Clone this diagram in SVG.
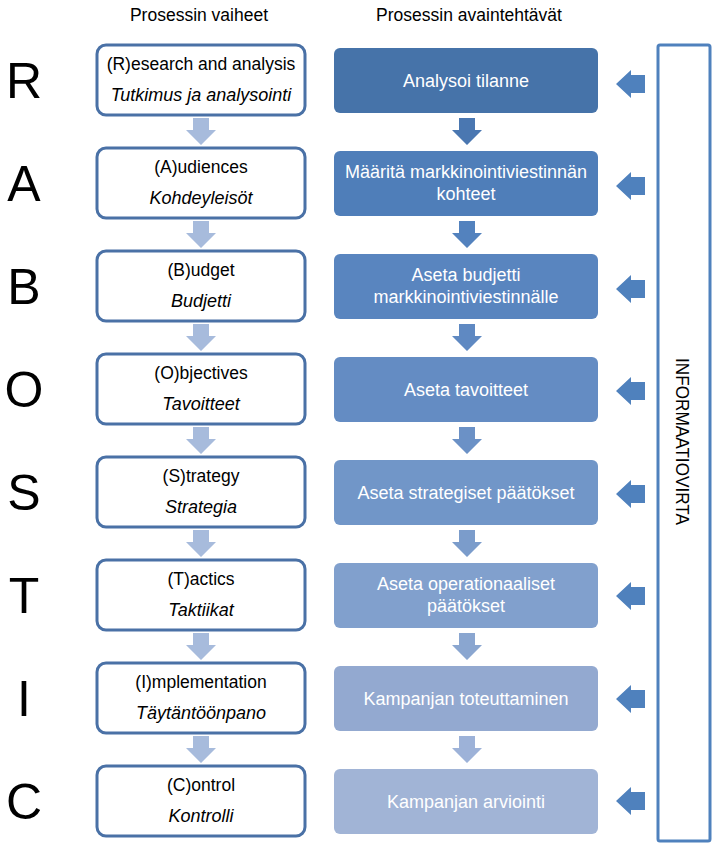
<svg xmlns="http://www.w3.org/2000/svg" width="715" height="846" viewBox="0 0 715 846">
<style>
.t{font-family:"Liberation Sans",Arial,sans-serif;}
.hdr{font-size:17.5px;fill:#000;text-anchor:middle;}
.big{font-size:50px;fill:#000;text-anchor:middle;}
.lb{fill:#fff;stroke:#4A71A6;stroke-width:3;}
.l1{font-size:17.5px;fill:#000;text-anchor:middle;}
.l2{font-size:18px;fill:#000;text-anchor:middle;font-style:italic;}
.rt{font-size:18px;fill:#fff;text-anchor:middle;}
.la{fill:#A7BBDC;}
.side{fill:#4F81BD;}
</style>
<defs>
<path id="da" d="M-8,0 H8 V12 H15 L0,27 L-15,12 H-8 Z"/>
<path id="sa" d="M0,0 L15,-14 V-9 H29 V9 H15 V14 Z"/>
</defs>
<rect width="715" height="846" fill="#fff"/>
<text class="t hdr" x="199" y="21">Prosessin vaiheet</text>
<text class="t hdr" x="469" y="21">Prosessin avaintehtävät</text>

<g id="letters">
<text class="t big" x="24" y="98">R</text>
<text class="t big" x="24" y="201">A</text>
<text class="t big" x="24" y="304">B</text>
<text class="t big" x="24" y="407">O</text>
<text class="t big" x="24" y="510">S</text>
<text class="t big" x="24" y="613">T</text>
<text class="t big" x="24" y="716">I</text>
<text class="t big" x="24" y="819">C</text>
</g>

<g id="connectors">
<use href="#da" x="201" y="118" class="la"/>
<use href="#da" x="201" y="221" class="la"/>
<use href="#da" x="201" y="324" class="la"/>
<use href="#da" x="201" y="427" class="la"/>
<use href="#da" x="201" y="530" class="la"/>
<use href="#da" x="201" y="633" class="la"/>
<use href="#da" x="201" y="736" class="la"/>
<use href="#da" x="467" y="118" fill="#4A77B1"/>
<use href="#da" x="467" y="221" fill="#5382BE"/>
<use href="#da" x="467" y="324" fill="#5F89C2"/>
<use href="#da" x="467" y="427" fill="#6B91C6"/>
<use href="#da" x="467" y="530" fill="#7B9CCB"/>
<use href="#da" x="467" y="633" fill="#8AA6D0"/>
<use href="#da" x="467" y="736" fill="#9DB2D8"/>
<use href="#sa" x="616" y="84" class="side"/>
<use href="#sa" x="616" y="186" class="side"/>
<use href="#sa" x="616" y="289" class="side"/>
<use href="#sa" x="616" y="391" class="side"/>
<use href="#sa" x="616" y="494" class="side"/>
<use href="#sa" x="616" y="596" class="side"/>
<use href="#sa" x="616" y="699" class="side"/>
<use href="#sa" x="616" y="801" class="side"/>
</g>

<g id="n-r"><rect class="lb" x="97" y="45" width="208" height="70" rx="9"/><text class="t l1" x="201" y="70">(R)esearch and analysis</text><text class="t l2" x="201" y="101">Tutkimus ja analysointi</text></g>
<g id="n-a"><rect class="lb" x="97" y="148" width="208" height="70" rx="9"/><text class="t l1" x="201" y="173">(A)udiences</text><text class="t l2" x="201" y="204">Kohdeyleisöt</text></g>
<g id="n-b"><rect class="lb" x="97" y="251" width="208" height="70" rx="9"/><text class="t l1" x="201" y="276">(B)udget</text><text class="t l2" x="201" y="307">Budjetti</text></g>
<g id="n-o"><rect class="lb" x="97" y="354" width="208" height="70" rx="9"/><text class="t l1" x="201" y="379">(O)bjectives</text><text class="t l2" x="201" y="410">Tavoitteet</text></g>
<g id="n-s"><rect class="lb" x="97" y="457" width="208" height="70" rx="9"/><text class="t l1" x="201" y="482">(S)trategy</text><text class="t l2" x="201" y="513">Strategia</text></g>
<g id="n-t"><rect class="lb" x="97" y="560" width="208" height="70" rx="9"/><text class="t l1" x="201" y="585">(T)actics</text><text class="t l2" x="201" y="616">Taktiikat</text></g>
<g id="n-i"><rect class="lb" x="97" y="663" width="208" height="70" rx="9"/><text class="t l1" x="201" y="688">(I)mplementation</text><text class="t l2" x="201" y="719">Täytäntöönpano</text></g>
<g id="n-c"><rect class="lb" x="97" y="766" width="208" height="70" rx="9"/><text class="t l1" x="201" y="791">(C)ontrol</text><text class="t l2" x="201" y="822">Kontrolli</text></g>

<g id="t1"><rect x="334" y="48" width="264" height="65" rx="6" fill="#4673A9"/><text class="t rt" x="466" y="87">Analysoi tilanne</text></g>
<g id="t2"><rect x="334" y="151" width="264" height="65" rx="6" fill="#4F7EB9"/><text class="t rt" x="466" y="178">Määritä markkinointiviestinnän</text><text class="t rt" x="466" y="200">kohteet</text></g>
<g id="t3"><rect x="334" y="254" width="264" height="65" rx="6" fill="#5985BF"/><text class="t rt" x="466" y="281">Aseta budjetti</text><text class="t rt" x="466" y="303">markkinointiviestinnälle</text></g>
<g id="t4"><rect x="334" y="357" width="264" height="65" rx="6" fill="#648CC3"/><text class="t rt" x="466" y="396">Aseta tavoitteet</text></g>
<g id="t5"><rect x="334" y="460" width="264" height="65" rx="6" fill="#7196C8"/><text class="t rt" x="466" y="499">Aseta strategiset päätökset</text></g>
<g id="t6"><rect x="334" y="563" width="264" height="65" rx="6" fill="#81A0CD"/><text class="t rt" x="466" y="590">Aseta operationaaliset</text><text class="t rt" x="466" y="612">päätökset</text></g>
<g id="t7"><rect x="334" y="666" width="264" height="65" rx="6" fill="#93A9D0"/><text class="t rt" x="466" y="705">Kampanjan toteuttaminen</text></g>
<g id="t8"><rect x="334" y="769" width="264" height="65" rx="6" fill="#A1B4D6"/><text class="t rt" x="466" y="808">Kampanjan arviointi</text></g>

<g id="info">
<rect x="658" y="45" width="52" height="796" rx="2" fill="#fff" stroke="#4F81BD" stroke-width="3"/>
<text class="t" x="0" y="0" font-size="19" text-anchor="middle" textLength="167" lengthAdjust="spacingAndGlyphs" transform="translate(676,441.5) rotate(90)">INFORMAATIOVIRTA</text>
</g>
</svg>
